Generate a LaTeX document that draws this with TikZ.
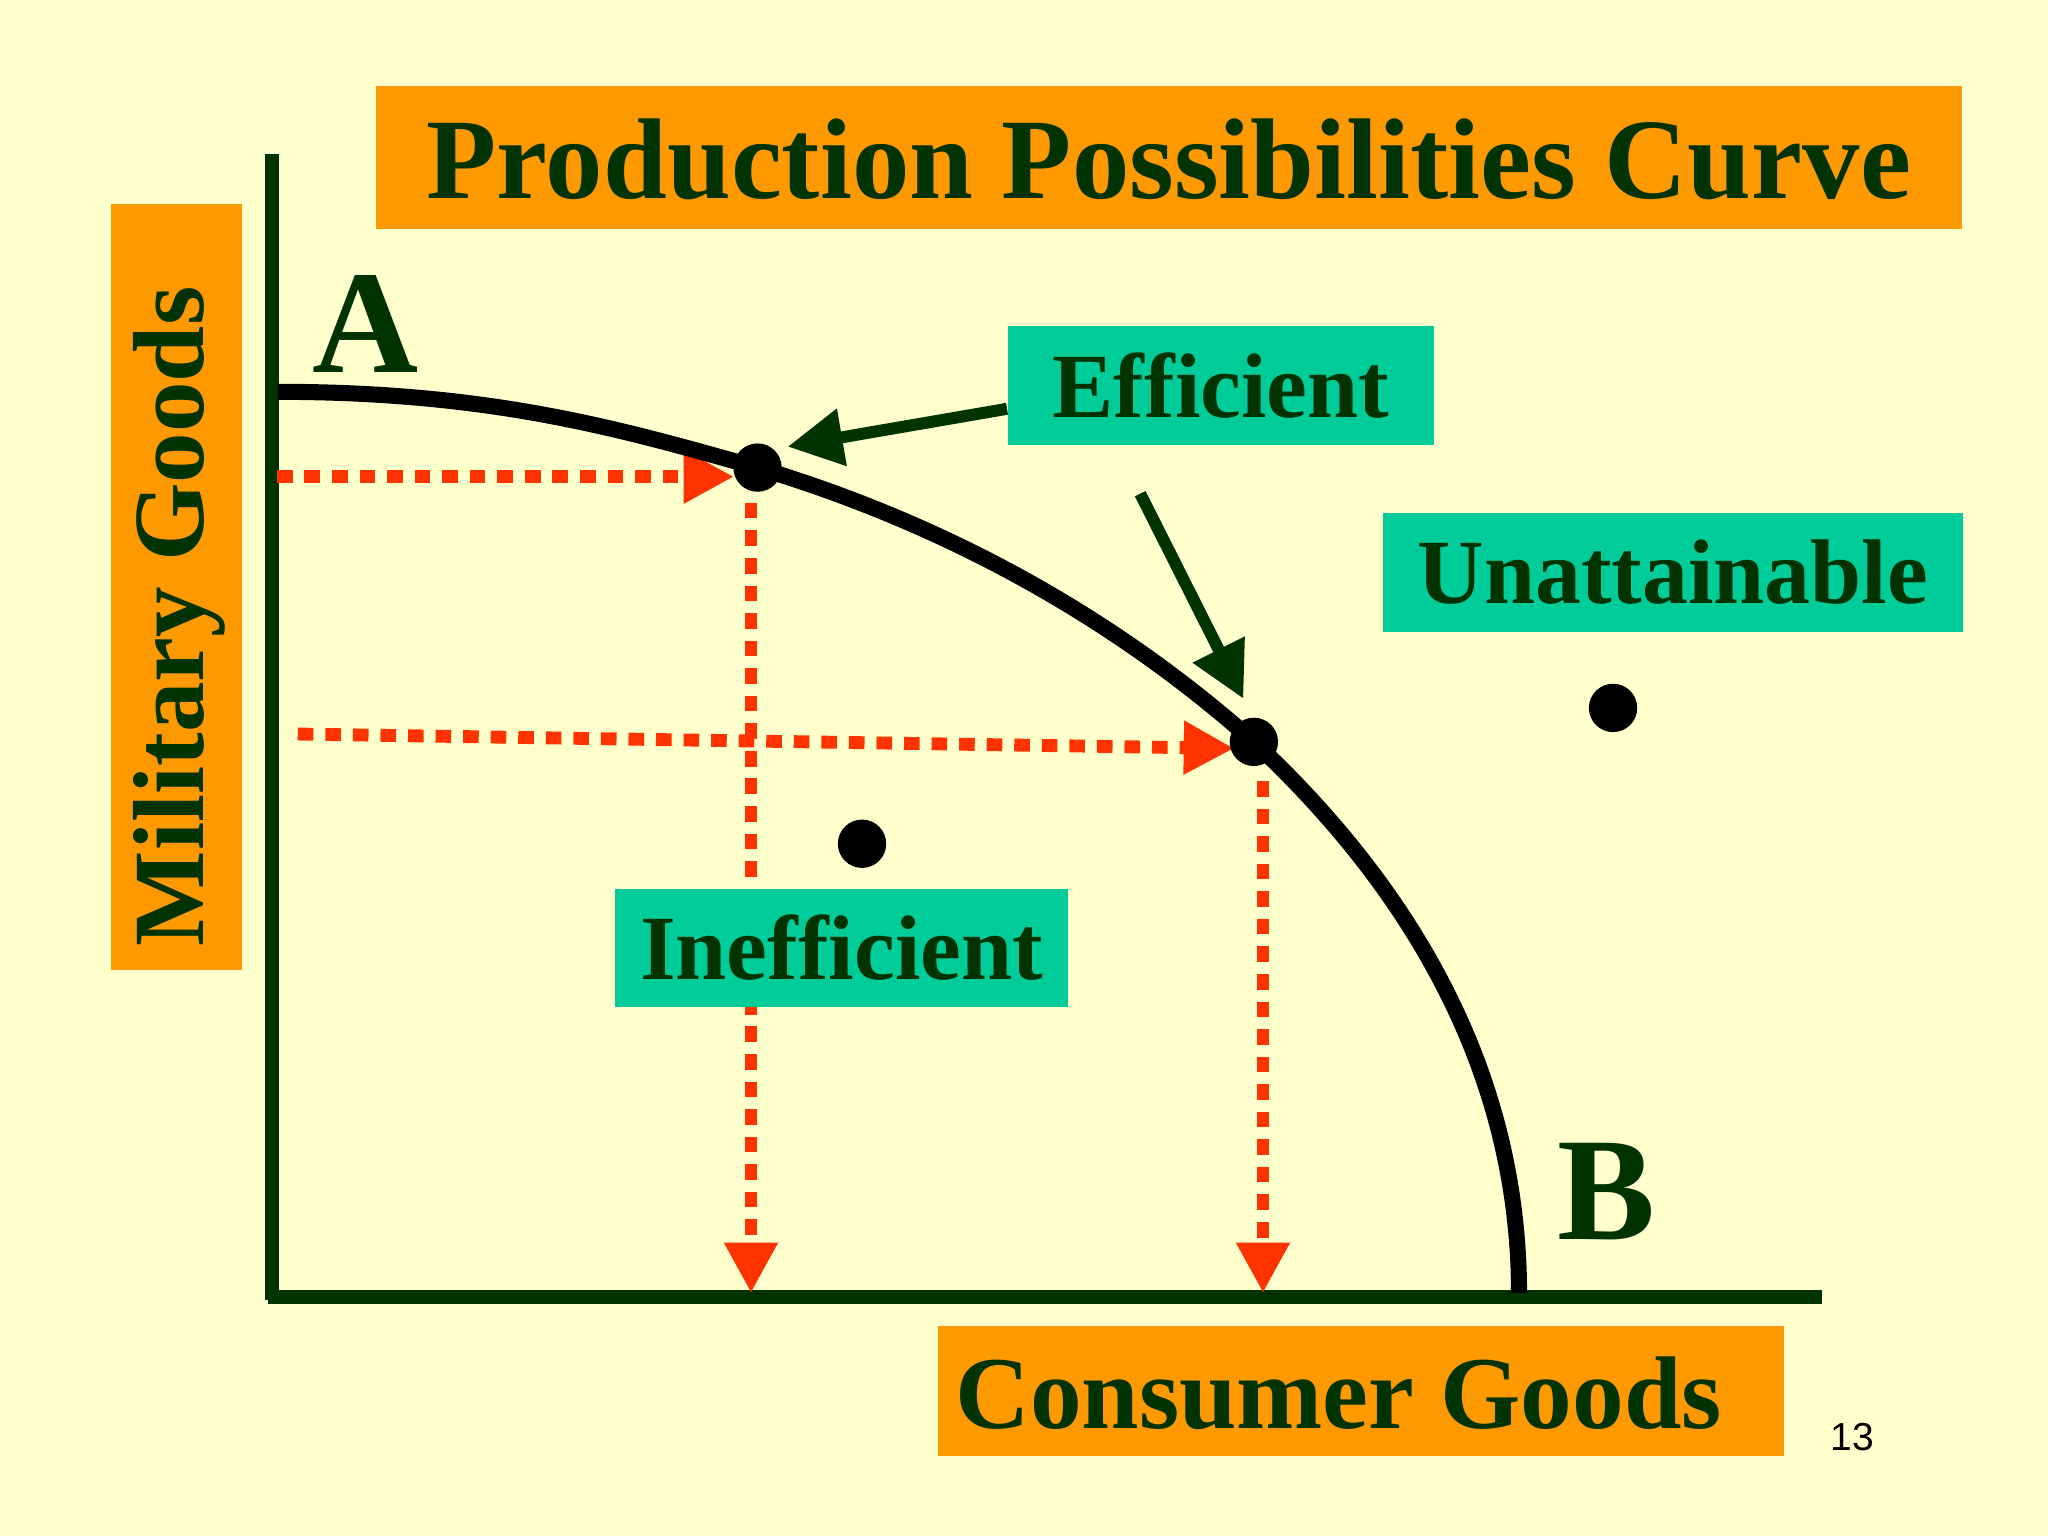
\documentclass[tikz,border=0pt]{standalone}
\usepackage{fontspec}
\setmainfont{Liberation Serif}
\newfontfamily\pgfont{Liberation Sans}
\usetikzlibrary{arrows.meta}
\definecolor{bg}{HTML}{FFFFCC}
\definecolor{org}{HTML}{FF9900}
\definecolor{teal}{HTML}{00CC99}
\definecolor{dg}{HTML}{003300}
\definecolor{rd}{HTML}{FF3300}
\tikzset{
 box/.style={fill=#1,inner sep=0,anchor=north west},
 lbl/.style={text=dg,font=\bfseries\fontsize{20}{20}\selectfont},
 red/.style={draw=rd,line width=2.8pt,dash pattern=on 3.4pt off 2.6pt,-{Triangle[length=11pt,width=11pt,fill=rd]}},
 grn/.style={draw=dg,line width=2.6pt,-{Triangle[length=12pt,width=12pt,fill=dg]}},
 dot/.style={circle,fill=black,minimum size=0.37cm,inner sep=0}
}
\begin{document}
\begin{tikzpicture}[x=0.01cm,y=-0.01cm]
\fill[bg] (0,0) rectangle (1568,1176);
\useasboundingbox (0,0) rectangle (1568,1176);
% boxes
\fill[org] (288,66) rectangle (1502,175);
\node[text=dg,font=\bfseries\fontsize{25}{25}\selectfont] (title) at (895,122) {Production Possibilities Curve};
\fill[org] (85,156) rectangle (185,743);
\node[rotate=90,text=dg,font=\bfseries\fontsize{22}{22}\selectfont] (ylab) at (137,472) {Military Goods};
\fill[org] (718,1015) rectangle (1366,1115);
\node[text=dg,font=\bfseries\fontsize{22.5}{22.5}\selectfont] (xlab) at (1025,1067) {Consumer Goods};
\node[font=\pgfont\fontsize{8.5}{8.5}\selectfont] (pg) at (1418,1100) {13};
% axes
\draw[dg,line width=3pt] (208,118) -- (208,995);
\draw[dg,line width=3pt] (205,993) -- (1395,993);
\node[lbl,font=\bfseries\fontsize{32}{32}\selectfont] (A) at (280,248) {A};
\node[lbl,font=\bfseries\fontsize{32}{32}\selectfont] (B) at (1230,912) {B};
% red dashed
\coordinate (h1s) at (212,365); \coordinate (h1e) at (562,365);
\coordinate (v1s) at (575,385); \coordinate (v1e) at (575,990);
\coordinate (h2s) at (228,562); \coordinate (h2e) at (945,573);
\coordinate (v2s) at (967,598); \coordinate (v2e) at (967,990);
\draw[red] (h1s) -- (h1e);
\draw[red] (v1s) -- (v1e);
\draw[red] (h2s) -- (h2e);
\draw[red] (v2s) -- (v2e);
% curve
\draw[black,line width=3.5pt] (213,300) .. controls (380,300) and (480,330) .. (580,358) .. controls (720,400) and (850,470) .. (960,568) .. controls (1080,680) and (1163,820) .. (1163,990);
\node[dot] (p1) at (580,358) {};
\node[dot] (p2) at (960,568) {};
\node[dot] (p3) at (660,646) {};
\node[dot] (p4) at (1235,542) {};
% labels
\node[box=teal,minimum width=3.26cm,minimum height=0.91cm,lbl] (eff) at (771,249) {Efficient};
\node[box=teal,minimum width=4.44cm,minimum height=0.91cm,lbl] (un) at (1058,392) {Unattainable};
\node[box=teal,minimum width=3.47cm,minimum height=0.90cm,lbl] (ineff) at (470,680) {Inefficient};
\coordinate (e1s) at (771,313);
\coordinate (e2s) at (873,378);
\draw[grn] (e1s) -- (603,342);
\draw[grn] (e2s) -- (952,535);
\end{tikzpicture}
\end{document}
